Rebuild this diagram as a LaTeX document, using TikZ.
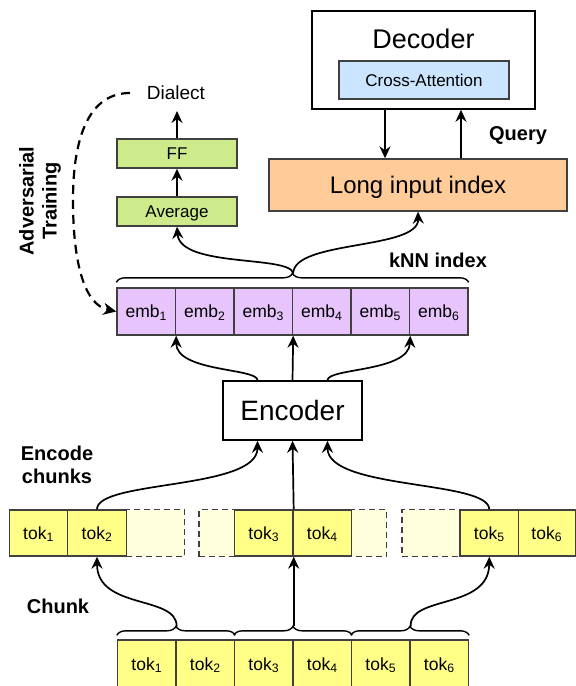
\documentclass[tikz,border=0pt]{standalone}
\usepackage{fontspec}
\setmainfont{Liberation Sans}
\usetikzlibrary{arrows.meta,calc,decorations.pathreplacing}

\definecolor{edgegray}{HTML}{404040}
\definecolor{embfill}{HTML}{E7C4FB}
\definecolor{tokfill}{HTML}{FFFF88}
\definecolor{padfill}{HTML}{FFFFDD}
\definecolor{greenfill}{HTML}{CDEB8B}
\definecolor{orangefill}{HTML}{FFCC99}
\definecolor{bluefill}{HTML}{CCE5FF}

\begin{document}
\begin{tikzpicture}[x=1pt,y=-1pt,
  cell/.style={draw=edgegray, line width=1.4pt, inner sep=0pt,
    minimum width=58.5pt, minimum height=47pt,
    font=\fontsize{17.5}{21}\selectfont, text height=12.5pt, text depth=0pt},
  embcell/.style={cell, fill=embfill},
  tokcell/.style={cell, fill=tokfill, minimum height=46pt},
  padcell/.style={cell, fill=padfill, dash pattern=on 6pt off 4pt},
  greenbox/.style={draw=edgegray, line width=1.4pt, fill=greenfill, inner sep=0pt,
    minimum width=120pt, minimum height=29pt,
    font=\fontsize{17}{20}\selectfont, text height=12.2pt, text depth=0pt},
  bigbox/.style={draw=black, line width=1.6pt, inner sep=0pt},
  tag/.style={font=\bfseries\fontsize{20}{24}\selectfont, inner sep=2pt,
    text height=14.4pt, text depth=0pt},
  tagblock/.style={font=\bfseries\fontsize{20}{23}\selectfont, inner sep=0pt,
    align=center},
  arr/.style={line width=1.7pt, -{Stealth[length=12pt,width=11pt,inset=4pt]}},
  advarrow/.style={line width=2.2pt, dash pattern=on 9pt off 6pt,
    -{Stealth[length=13pt,width=12pt,inset=4pt]}},
  curly/.style={line width=1.4pt, draw=black,
    decorate, decoration={brace, amplitude=9pt, raise=#1}},
]
\useasboundingbox (0,0) rectangle (576,686);
\clip (0,0) rectangle (576,686);

% ---------------- decoder and index ----------------
\node[bigbox, minimum width=223pt, minimum height=98pt] (dec) at (423.5,60) {};
\node[font=\fontsize{27}{32}\selectfont, text height=19.4pt, text depth=0pt, inner sep=0pt]
  (dectext) at (423.5,39) {Decoder};
\node[draw=edgegray, line width=1.4pt, fill=bluefill, inner sep=0pt,
  minimum width=170pt, minimum height=38pt,
  font=\fontsize{17}{20}\selectfont, text height=12.2pt, text depth=0pt]
  (xattn) at (424,80) {Cross-Attention};

\node[draw=edgegray, line width=1.4pt, fill=orangefill, inner sep=0pt,
  minimum width=298pt, minimum height=52pt,
  font=\fontsize{24}{29}\selectfont, text height=17.3pt, text depth=0pt]
  (lii) at (418,185) {Long input index};

\draw[arr] ($(dec.south)+(-38.5,0)$) -- ($(lii.north)+(-33,0)$);
\draw[arr] ($(lii.north)+(43,0)$) -- ($(dec.south)+(37.5,0)$);
\node[tag] (query) at (518,133) {Query};

% ---------------- dialect head ----------------
\node[greenbox] (avg) at (177,211.5) {Average};
\node[greenbox] (ff) at (177,153.5) {FF};
\node[font=\fontsize{19}{23}\selectfont, text height=13.7pt, text depth=0pt, inner sep=3pt]
  (dialect) at (176,93) {Dialect};
\draw[arr] (avg.north) -- (ff.south);
\draw[arr, shorten >=8pt] (ff.north) -- (ff.north |- dialect.south);

% ---------------- embeddings ----------------
\foreach \i in {1,...,6}
  \node[embcell] (emb\i) at ({117+58.5*(\i-0.5)},311.5) {emb\textsubscript{\i}};
\draw[curly=5pt] (emb1.north west) -- (emb6.north east);
\coordinate (embcusp) at ($(emb3.north east)+(0,-14)$);
\node[tag] (knn) at (438,260) {kNN index};

\draw[arr] (embcusp) .. controls (290,255) and (180,268) .. (avg.south);
\draw[arr] (embcusp) .. controls (294,240) and (419,250) .. (lii.south);

% adversarial signal back into the embeddings
\coordinate (advstart) at (130,93);
\draw[advarrow] (advstart) .. controls (90,93) and (73,135) .. (73,200)
  .. controls (73,265) and (85,305) .. (emb1.west);
\node[tagblock, rotate=90] (advtext) at (40,201) {Adversarial\\Training};

% ---------------- encoder ----------------
\node[bigbox, minimum width=139pt, minimum height=59pt,
  font=\fontsize{28}{33}\selectfont, text height=20.1pt, text depth=0pt]
  (enc) at (292.5,410.5) {Encoder};

\draw[arr] (enc.north) -- (emb3.south east);
\draw[arr] ($(enc.north)+(-35,0)$) .. controls (257.5,368) and (176,372) .. (emb1.south east);
\draw[arr] ($(enc.north)+(35,0)$) .. controls (327.5,368) and (409,372) .. (emb5.south east);

\node[tagblock] (enctext) at (57,464.5) {Encode\\chunks};

% ---------------- chunked tokens ----------------
\node[padcell, minimum width=58.5pt] (p1) at (155.5,533) {};
\node[padcell, minimum width=41pt] (p2) at (219.5,533) {};
\node[padcell, minimum width=41pt] (p3) at (366,533) {};
\node[padcell, minimum width=58pt] (p4) at (431,533) {};
\node[tokcell] (m1) at (38.5,533) {tok\textsubscript{1}};
\node[tokcell] (m2) at (97,533) {tok\textsubscript{2}};
\node[tokcell] (m3) at (263.75,533) {tok\textsubscript{3}};
\node[tokcell] (m4) at (322.25,533) {tok\textsubscript{4}};
\node[tokcell] (m5) at (489.25,533) {tok\textsubscript{5}};
\node[tokcell, minimum width=57pt] (m6) at (546.75,533) {tok\textsubscript{6}};

\draw[arr] (m2.north) .. controls (97,480) and (257.5,490) .. ($(enc.south)+(-35,0)$);
\draw[arr] (m3.north east) -- (enc.south);
\draw[arr] (m5.north) .. controls (489,480) and (327.5,490) .. ($(enc.south)+(35,0)$);

% ---------------- input tokens ----------------
\foreach \i in {1,...,6}
  \node[tokcell, minimum height=48pt] (in\i) at ({117.5+58.5*(\i-0.5)},664) {tok\textsubscript{\i}};
\draw[curly=4pt] (in1.north west) -- (in2.north east);
\draw[curly=4pt] (in3.north west) -- (in4.north east);
\draw[curly=4pt] (in5.north west) -- (in6.north east);
\coordinate (cusp1) at ($(in1.north east)+(0,-13)$);
\coordinate (cusp2) at ($(in3.north east)+(0,-13)$);
\coordinate (cusp3) at ($(in5.north east)+(0,-13)$);

\node[tag] (chunktext) at (58,606) {Chunk};

\draw[arr] (cusp1) .. controls (177,595) and (97,610) .. (m2.south);
\draw[arr] (cusp2) -- (m3.south east);
\draw[arr] (cusp3) .. controls (409,595) and (489,610) .. (m5.south);
\end{tikzpicture}
\end{document}
